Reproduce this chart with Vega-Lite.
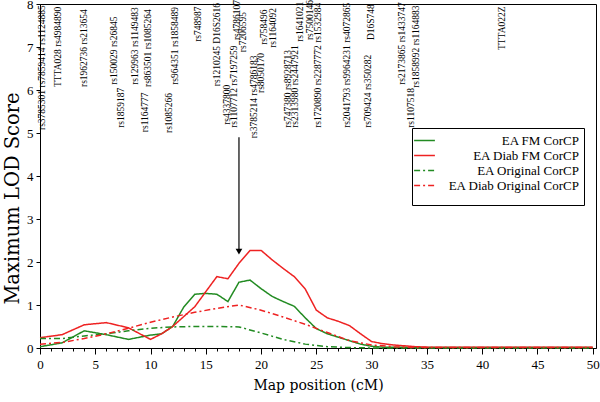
{
  "$schema": "https://vega.github.io/schema/vega-lite/v6.json",
  "width": 556,
  "height": 344,
  "autosize": {"type": "none"},
  "padding": {"left": 40, "top": 4, "right": 4, "bottom": 54},
  "background": "white",
  "config": {
    "view": {"stroke": "black", "strokeWidth": 1},
    "font": "Liberation Serif",
    "axis": {"domainColor": "black", "tickColor": "black", "labelColor": "black", "titleColor": "black", "labelFont": "Liberation Serif", "titleFont": "DejaVu Serif", "titleFontWeight": "normal", "grid": false, "labelFlush": false},
    "legend": {"labelFont": "Liberation Serif", "labelColor": "black"}
  },
  "datasets": {
    "curves": [
      {"pos": 0, "lod": 0.03, "series": "EA FM CorCP"},
      {"pos": 2, "lod": 0.12, "series": "EA FM CorCP"},
      {"pos": 4, "lod": 0.4, "series": "EA FM CorCP"},
      {"pos": 6, "lod": 0.31, "series": "EA FM CorCP"},
      {"pos": 8, "lod": 0.2, "series": "EA FM CorCP"},
      {"pos": 10, "lod": 0.3, "series": "EA FM CorCP"},
      {"pos": 11, "lod": 0.33, "series": "EA FM CorCP"},
      {"pos": 12, "lod": 0.5, "series": "EA FM CorCP"},
      {"pos": 13, "lod": 0.95, "series": "EA FM CorCP"},
      {"pos": 14, "lod": 1.25, "series": "EA FM CorCP"},
      {"pos": 15, "lod": 1.27, "series": "EA FM CorCP"},
      {"pos": 16, "lod": 1.25, "series": "EA FM CorCP"},
      {"pos": 17, "lod": 1.08, "series": "EA FM CorCP"},
      {"pos": 18, "lod": 1.53, "series": "EA FM CorCP"},
      {"pos": 19, "lod": 1.58, "series": "EA FM CorCP"},
      {"pos": 20, "lod": 1.38, "series": "EA FM CorCP"},
      {"pos": 21, "lod": 1.2, "series": "EA FM CorCP"},
      {"pos": 22, "lod": 1.08, "series": "EA FM CorCP"},
      {"pos": 23, "lod": 0.97, "series": "EA FM CorCP"},
      {"pos": 24, "lod": 0.7, "series": "EA FM CorCP"},
      {"pos": 25, "lod": 0.45, "series": "EA FM CorCP"},
      {"pos": 26, "lod": 0.33, "series": "EA FM CorCP"},
      {"pos": 27, "lod": 0.25, "series": "EA FM CorCP"},
      {"pos": 28, "lod": 0.17, "series": "EA FM CorCP"},
      {"pos": 29, "lod": 0.09, "series": "EA FM CorCP"},
      {"pos": 30, "lod": 0.04, "series": "EA FM CorCP"},
      {"pos": 31, "lod": 0.02, "series": "EA FM CorCP"},
      {"pos": 35, "lod": 0.01, "series": "EA FM CorCP"},
      {"pos": 50, "lod": 0.01, "series": "EA FM CorCP"},

      {"pos": 0, "lod": 0.24, "series": "EA Diab FM CorCP"},
      {"pos": 2, "lod": 0.31, "series": "EA Diab FM CorCP"},
      {"pos": 4, "lod": 0.54, "series": "EA Diab FM CorCP"},
      {"pos": 6, "lod": 0.59, "series": "EA Diab FM CorCP"},
      {"pos": 8, "lod": 0.47, "series": "EA Diab FM CorCP"},
      {"pos": 10, "lod": 0.2, "series": "EA Diab FM CorCP"},
      {"pos": 11, "lod": 0.33, "series": "EA Diab FM CorCP"},
      {"pos": 12, "lod": 0.5, "series": "EA Diab FM CorCP"},
      {"pos": 14, "lod": 0.96, "series": "EA Diab FM CorCP"},
      {"pos": 16, "lod": 1.66, "series": "EA Diab FM CorCP"},
      {"pos": 17, "lod": 1.61, "series": "EA Diab FM CorCP"},
      {"pos": 18, "lod": 1.97, "series": "EA Diab FM CorCP"},
      {"pos": 19, "lod": 2.27, "series": "EA Diab FM CorCP"},
      {"pos": 20, "lod": 2.27, "series": "EA Diab FM CorCP"},
      {"pos": 21, "lod": 2.05, "series": "EA Diab FM CorCP"},
      {"pos": 22, "lod": 1.85, "series": "EA Diab FM CorCP"},
      {"pos": 23, "lod": 1.66, "series": "EA Diab FM CorCP"},
      {"pos": 24, "lod": 1.37, "series": "EA Diab FM CorCP"},
      {"pos": 25, "lod": 0.88, "series": "EA Diab FM CorCP"},
      {"pos": 26, "lod": 0.7, "series": "EA Diab FM CorCP"},
      {"pos": 27, "lod": 0.62, "series": "EA Diab FM CorCP"},
      {"pos": 28, "lod": 0.52, "series": "EA Diab FM CorCP"},
      {"pos": 29, "lod": 0.33, "series": "EA Diab FM CorCP"},
      {"pos": 30, "lod": 0.15, "series": "EA Diab FM CorCP"},
      {"pos": 31, "lod": 0.1, "series": "EA Diab FM CorCP"},
      {"pos": 32, "lod": 0.07, "series": "EA Diab FM CorCP"},
      {"pos": 33, "lod": 0.05, "series": "EA Diab FM CorCP"},
      {"pos": 34, "lod": 0.03, "series": "EA Diab FM CorCP"},
      {"pos": 35, "lod": 0.02, "series": "EA Diab FM CorCP"},
      {"pos": 50, "lod": 0.02, "series": "EA Diab FM CorCP"},

      {"pos": 0, "lod": 0.22, "series": "EA Original CorCP"},
      {"pos": 2, "lod": 0.22, "series": "EA Original CorCP"},
      {"pos": 4, "lod": 0.28, "series": "EA Original CorCP"},
      {"pos": 6, "lod": 0.33, "series": "EA Original CorCP"},
      {"pos": 8, "lod": 0.4, "series": "EA Original CorCP"},
      {"pos": 10, "lod": 0.46, "series": "EA Original CorCP"},
      {"pos": 12, "lod": 0.49, "series": "EA Original CorCP"},
      {"pos": 14, "lod": 0.5, "series": "EA Original CorCP"},
      {"pos": 16, "lod": 0.5, "series": "EA Original CorCP"},
      {"pos": 18, "lod": 0.49, "series": "EA Original CorCP"},
      {"pos": 20, "lod": 0.35, "series": "EA Original CorCP"},
      {"pos": 22, "lod": 0.2, "series": "EA Original CorCP"},
      {"pos": 24, "lod": 0.09, "series": "EA Original CorCP"},
      {"pos": 26, "lod": 0.03, "series": "EA Original CorCP"},
      {"pos": 28, "lod": 0.01, "series": "EA Original CorCP"},
      {"pos": 30, "lod": 0.0, "series": "EA Original CorCP"},
      {"pos": 50, "lod": 0.0, "series": "EA Original CorCP"},

      {"pos": 0, "lod": 0.09, "series": "EA Diab Original CorCP"},
      {"pos": 2, "lod": 0.13, "series": "EA Diab Original CorCP"},
      {"pos": 4, "lod": 0.22, "series": "EA Diab Original CorCP"},
      {"pos": 6, "lod": 0.33, "series": "EA Diab Original CorCP"},
      {"pos": 8, "lod": 0.46, "series": "EA Diab Original CorCP"},
      {"pos": 10, "lod": 0.6, "series": "EA Diab Original CorCP"},
      {"pos": 12, "lod": 0.72, "series": "EA Diab Original CorCP"},
      {"pos": 14, "lod": 0.83, "series": "EA Diab Original CorCP"},
      {"pos": 16, "lod": 0.92, "series": "EA Diab Original CorCP"},
      {"pos": 18, "lod": 1.0, "series": "EA Diab Original CorCP"},
      {"pos": 20, "lod": 0.88, "series": "EA Diab Original CorCP"},
      {"pos": 22, "lod": 0.72, "series": "EA Diab Original CorCP"},
      {"pos": 24, "lod": 0.55, "series": "EA Diab Original CorCP"},
      {"pos": 26, "lod": 0.36, "series": "EA Diab Original CorCP"},
      {"pos": 28, "lod": 0.17, "series": "EA Diab Original CorCP"},
      {"pos": 30, "lod": 0.07, "series": "EA Diab Original CorCP"},
      {"pos": 32, "lod": 0.03, "series": "EA Diab Original CorCP"},
      {"pos": 34, "lod": 0.01, "series": "EA Diab Original CorCP"},
      {"pos": 50, "lod": 0.01, "series": "EA Diab Original CorCP"}
    ],
    "markers": [
      {"pos": 0.18, "lod": 5.07, "label": "rs3785301 rs7859414 rs1124885"},
      {"pos": 1.63, "lod": 6.07, "label": "TTTA028 rs4984890"},
      {"pos": 3.98, "lod": 6.07, "label": "rs1962736 rs213654"},
      {"pos": 6.7, "lod": 6.12, "label": "rs150029 rs26845"},
      {"pos": 7.33, "lod": 5.12, "label": "rs1859187"},
      {"pos": 8.6, "lod": 6.12, "label": "rs129963 rs1149483"},
      {"pos": 9.5, "lod": 5.02, "label": "rs1164777"},
      {"pos": 9.78, "lod": 6.07, "label": "rs863501 rs1085264"},
      {"pos": 11.68, "lod": 5.0, "label": "rs1085266"},
      {"pos": 12.22, "lod": 6.12, "label": "rs964351 rs1858489"},
      {"pos": 14.3, "lod": 7.12, "label": "rs748987"},
      {"pos": 16.02, "lod": 6.09, "label": "rs1210245 D16S2616"},
      {"pos": 16.92, "lod": 5.19, "label": "rs4337800"},
      {"pos": 17.56, "lod": 5.12, "label": "rs1107712 rs7197259"},
      {"pos": 17.82, "lod": 7.16, "label": "rs4786107"},
      {"pos": 18.37, "lod": 6.88, "label": "rs7206595"},
      {"pos": 19.36, "lod": 4.88, "label": "rs3785214 rs4786183"},
      {"pos": 20.0, "lod": 5.93, "label": "rs8050170"},
      {"pos": 20.27, "lod": 7.05, "label": "rs758496"},
      {"pos": 21.09, "lod": 6.98, "label": "rs1164092"},
      {"pos": 22.45, "lod": 5.12, "label": "rs747380 rs8928713"},
      {"pos": 23.08, "lod": 5.12, "label": "rs2313980 rs2447921"},
      {"pos": 23.53, "lod": 7.12, "label": "rs1641021"},
      {"pos": 24.44, "lod": 7.16, "label": "rs7500146"},
      {"pos": 25.16, "lod": 5.12, "label": "rs1720890 rs2287772 rs1532984"},
      {"pos": 27.77, "lod": 5.12, "label": "rs2041793 rs9964231 rs4072865"},
      {"pos": 29.67, "lod": 5.12, "label": "rs709424 rs350282"},
      {"pos": 29.95, "lod": 7.16, "label": "D16S748"},
      {"pos": 32.75, "lod": 6.12, "label": "rs2173865 rs1433747"},
      {"pos": 33.55, "lod": 5.12, "label": "rs1107518"},
      {"pos": 34.05, "lod": 6.05, "label": "rs1858992 rs1164883"},
      {"pos": 41.8, "lod": 6.93, "label": "TTTA022Z"}
    ],
    "arrow": [{"pos": 18, "top": 4.9, "bottom": 2.3, "head": 2.24}],
    "minor": [
      {"pos": 0}
    ]
  },
  "layer": [
    {
      "data": {"name": "curves"},
      "mark": {"type": "line", "strokeWidth": 1.5},
      "encoding": {
        "x": {"field": "pos", "type": "quantitative", "scale": {"domain": [0, 50.3], "nice": false, "zero": false},
          "axis": {"values": [0, 5, 10, 15, 20, 25, 30, 35, 40, 45, 50], "tickSize": 6, "labelFontSize": 13, "labelPadding": 4, "title": "Map position (cM)", "titleFontSize": 14, "titlePadding": 7}},
        "y": {"field": "lod", "type": "quantitative", "scale": {"domain": [0, 8], "nice": false},
          "axis": {"values": [0, 1, 2, 3, 4, 5, 6, 7, 8], "tickSize": 4, "labelFontSize": 13, "labelPadding": 3, "title": "Maximum LOD Score", "titleFontSize": 19.5, "titleX": -28, "titleY": 194, "titleBaseline": "middle", "titleAlign": "center", "titleAngle": 270}},
        "color": {"field": "series", "type": "nominal",
          "scale": {"domain": ["EA FM CorCP", "EA Diab FM CorCP", "EA Original CorCP", "EA Diab Original CorCP"], "range": ["#228b22", "#ee2222", "#228b22", "#ee2222"]},
          "legend": {"title": " ", "titleOrient": "bottom", "titleFontSize": 6, "titlePadding": 1, "orient": "none", "legendX": 372, "legendY": 124, "symbolType": "M-1.6,0H1.6", "symbolSize": 169, "symbolStrokeWidth": 1.5, "labelFontSize": 13, "labelAlign": "right", "labelOffset": 147, "rowPadding": -0.5, "padding": 5, "strokeColor": "black", "fillColor": "white"}},
        "strokeDash": {"field": "series", "type": "nominal",
          "scale": {"domain": ["EA FM CorCP", "EA Diab FM CorCP", "EA Original CorCP", "EA Diab Original CorCP"], "range": [[1, 0], [1, 0], [6, 3, 2, 3], [6, 3, 2, 3]]},
          "legend": {"title": " ", "titleOrient": "bottom", "titleFontSize": 6, "titlePadding": 1, "orient": "none", "legendX": 372, "legendY": 124, "symbolType": "M-1.6,0H1.6", "symbolSize": 169, "symbolStrokeWidth": 1.5, "labelFontSize": 13, "labelAlign": "right", "labelOffset": 147, "rowPadding": -0.5, "padding": 5, "strokeColor": "black", "fillColor": "white"}}
      }
    },
    {
      "data": {"name": "markers"},
      "mark": {"type": "text", "angle": 270, "align": "left", "baseline": "middle", "fontSize": 9.5, "font": "Liberation Serif", "color": "black"},
      "encoding": {
        "x": {"field": "pos", "type": "quantitative", "axis": null},
        "y": {"field": "lod", "type": "quantitative", "axis": null},
        "text": {"field": "label"}
      }
    },
    {
      "data": {"name": "arrow"},
      "mark": {"type": "rule", "color": "black", "strokeWidth": 1.2},
      "encoding": {
        "x": {"field": "pos", "type": "quantitative", "axis": null},
        "y": {"field": "top", "type": "quantitative", "axis": null},
        "y2": {"field": "bottom"}
      }
    },
    {
      "data": {"name": "arrow"},
      "mark": {"type": "point", "shape": "triangle-down", "filled": true, "color": "black", "size": 45, "opacity": 1},
      "encoding": {
        "x": {"field": "pos", "type": "quantitative", "axis": null},
        "y": {"field": "head", "type": "quantitative", "axis": null}
      }
    },
    {
      "data": {"name": "minor"},
      "mark": {"type": "rule", "opacity": 0},
      "encoding": {
        "x": {"field": "pos", "type": "quantitative",
          "axis": {"orient": "bottom", "values": [1,2,3,4,6,7,8,9,11,12,13,14,16,17,18,19,21,22,23,24,26,27,28,29,31,32,33,34,36,37,38,39,41,42,43,44,46,47,48,49], "labels": false, "tickSize": 3, "domain": false, "title": null}}
      }
    }
  ],
  "resolve": {"axis": {"x": "independent", "y": "independent"}}
}
